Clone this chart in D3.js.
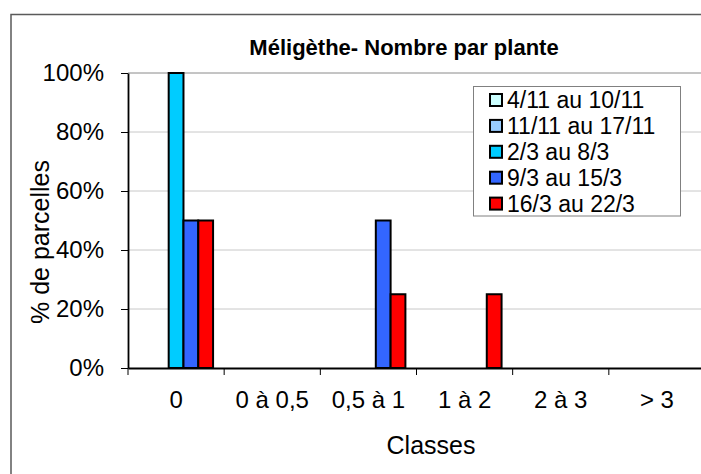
<!DOCTYPE html>
<html>
<head>
<meta charset="utf-8">
<script src="https://cdn.jsdelivr.net/npm/d3@7"></script>
<style>
  body { margin: 0; background: #fff; }
  svg { display: block; font-family: "Liberation Sans", Arial, sans-serif; }
</style>
</head>
<body>
<div id="chart"></div>
<script>
const categories = ["0", "0 à 0,5", "0,5 à 1", "1 à 2", "2 à 3", "> 3"];
const seriesNames = ["4/11 au 10/11", "11/11 au 17/11", "2/3 au 8/3", "9/3 au 15/3", "16/3 au 22/3"];
const seriesColors = ["#ccffff", "#99ccff", "#00ccff", "#3366ff", "#ff0000"];
const s1 = [0, 0, 0, 0, 0, 0];
const s2 = [0, 0, 0, 0, 0, 0];
const s3 = [1, 0, 0, 0, 0, 0];
const s4 = [0.5, 0, 0.5, 0, 0, 0];
const s5 = [0.5, 0, 0.25, 0.25, 0, 0];
const seriesValues = [s1, s2, s3, s4, s5];
const yTicks = [0, 0.2, 0.4, 0.6, 0.8, 1];

const width = 701, height = 474;
const plot = { left: 128, right: 705, top: 73, bottom: 368 };

const svg = d3.select("#chart").append("svg")
  .attr("width", width)
  .attr("height", height);

// chart frame (cropped on right and bottom like the original)
svg.append("rect")
  .attr("x", 11).attr("y", 14.5)
  .attr("width", 720).attr("height", 480)
  .attr("fill", "#fff")
  .attr("stroke", "#5a5a5a")
  .attr("stroke-width", 1.5);

const x = d3.scaleBand()
  .domain(categories)
  .range([plot.left, plot.right])
  .padding(0);

const x1 = d3.scaleBand()
  .domain(seriesNames)
  .range([0, x.bandwidth()])
  .paddingInner(0)
  .paddingOuter(0.75);

const y = d3.scaleLinear()
  .domain([0, 1])
  .range([plot.bottom, plot.top]);

// gridlines
svg.append("g")
  .selectAll("line")
  .data(yTicks.filter(d => d > 0))
  .join("line")
    .attr("x1", plot.left).attr("x2", plot.right)
    .attr("y1", d => y(d)).attr("y2", d => y(d))
    .attr("stroke", d => d === 1 ? "#8a8a8a" : "#c8c8c8")
    .attr("stroke-width", 1);

// bars
const table = [];
categories.forEach((c, i) => {
  seriesNames.forEach((s, j) => {
    table.push({ cat: c, series: s, color: seriesColors[j], value: seriesValues[j][i] });
  });
});

svg.append("g")
  .attr("class", "bars")
  .selectAll("rect")
  .data(table)
  .join("rect")
    .attr("x", d => x(d.cat) + x1(d.series))
    .attr("y", d => y(d.value))
    .attr("width", x1.bandwidth())
    .attr("height", d => y(0) - y(d.value))
    .attr("fill", d => d.color)
    .attr("stroke", "#000")
    .attr("stroke-width", 2);

// y axis
const yAxis = svg.append("g")
  .attr("transform", `translate(${plot.left},0)`)
  .call(d3.axisLeft(y).tickValues(yTicks).tickFormat(d3.format(".0%")).tickSize(7).tickPadding(17).tickSizeOuter(0));
yAxis.select(".domain").attr("stroke", "#000").attr("stroke-width", 1.8);
yAxis.selectAll(".tick line").attr("stroke", "#000");
yAxis.selectAll("text").attr("font-size", 24).attr("fill", "#000")
  .attr("font-family", "'Liberation Sans', Arial, sans-serif");

// x axis: labels at band centres, ticks at band edges
const xAxis = svg.append("g")
  .attr("transform", `translate(0,${plot.bottom})`)
  .call(d3.axisBottom(x).tickSize(0).tickPadding(23).tickSizeOuter(0));
xAxis.select(".domain").attr("stroke", "#000").attr("stroke-width", 1.8);
xAxis.selectAll("text").attr("font-size", 24).attr("fill", "#000")
  .attr("font-family", "'Liberation Sans', Arial, sans-serif");

svg.append("g")
  .selectAll("line")
  .data(categories)
  .join("line")
    .attr("x1", d => x(d)).attr("x2", d => x(d))
    .attr("y1", plot.bottom).attr("y2", plot.bottom + 7)
    .attr("stroke", "#000")
    .attr("stroke-width", 1);

// titles
svg.append("text")
  .attr("x", 404).attr("y", 55)
  .attr("text-anchor", "middle")
  .attr("font-size", 22).attr("font-weight", "bold")
  .text("Méligèthe- Nombre par plante");

svg.append("text")
  .attr("x", 431).attr("y", 454)
  .attr("text-anchor", "middle")
  .attr("font-size", 25)
  .text("Classes");

svg.append("text")
  .attr("transform", "translate(40,242) rotate(-90)")
  .attr("text-anchor", "middle")
  .attr("dominant-baseline", "central")
  .attr("font-size", 25)
  .text("% de parcelles");

// legend
const legend = svg.append("g");
legend.append("rect")
  .attr("x", 473.5).attr("y", 86.5)
  .attr("width", 207).attr("height", 129.5)
  .attr("fill", "#fff")
  .attr("stroke", "#808080")
  .attr("stroke-width", 1);

const items = legend.selectAll("g.item")
  .data(seriesNames)
  .join("g")
    .attr("class", "item")
    .attr("transform", (d, i) => `translate(0,${100 + i * 25.9})`);

items.append("rect")
  .attr("x", 490).attr("y", -6)
  .attr("width", 12).attr("height", 12)
  .attr("fill", (d, i) => seriesColors[i])
  .attr("stroke", "#000")
  .attr("stroke-width", 2);

items.append("text")
  .attr("x", 507).attr("y", 0)
  .attr("dominant-baseline", "central")
  .attr("font-size", 23)
  .text(d => d);
</script>
</body>
</html>
